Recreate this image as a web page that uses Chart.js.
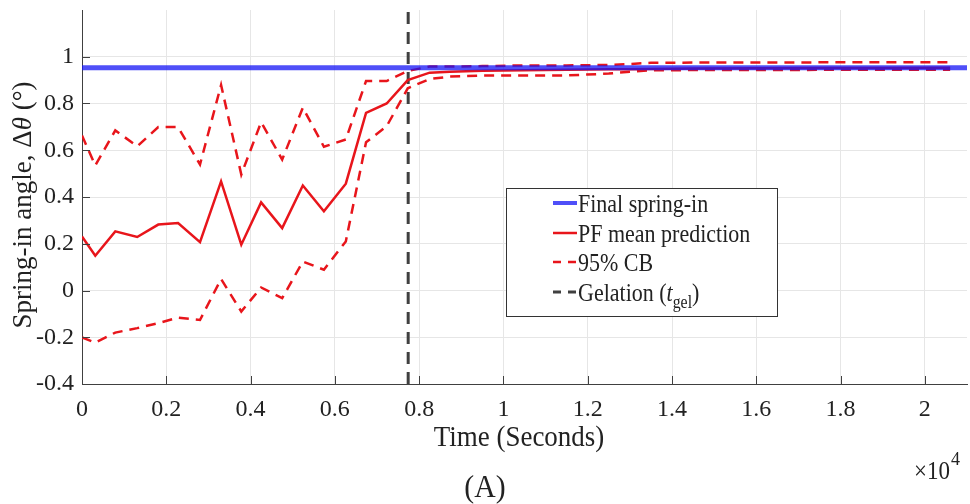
<!DOCTYPE html>
<html lang="en">
<head>
    <meta charset="UTF-8">
    <title>Spring-in angle</title>
    <script src="https://cdn.jsdelivr.net/npm/chart.js"></script>
    <style>
        html, body { margin: 0; padding: 0; background: #fff; }
        #wrap { width: 970px; height: 504px; }
    </style>
</head>
<body>
    <div id="wrap"><canvas id="springChart" width="970" height="504"></canvas></div>
    <script>
        // time stamps (s) of the particle filter updates
        const times = [0, 315, 790, 1310, 1810, 2280, 2800, 3300, 3780, 4250, 4750, 5240, 5740, 6260, 6740, 7230, 7730, 8250, 8730,
                       9500, 10500, 11500, 12500, 13000, 13500, 14500, 16000, 17500, 19000, 20600];
        const meanPred = [0.231, 0.149, 0.253, 0.229, 0.282, 0.289, 0.207, 0.467, 0.196, 0.377, 0.267, 0.449, 0.339, 0.457, 0.760, 0.800, 0.900, 0.932, 0.936,
                          0.940, 0.942, 0.944, 0.946, 0.947, 0.948, 0.950, 0.951, 0.952, 0.952, 0.953];
        const upperCB = [0.663, 0.535, 0.685, 0.617, 0.699, 0.699, 0.539, 0.879, 0.496, 0.720, 0.560, 0.782, 0.615, 0.646, 0.896, 0.896, 0.939, 0.958, 0.958,
                         0.960, 0.963, 0.963, 0.965, 0.969, 0.974, 0.975, 0.975, 0.976, 0.976, 0.976];
        const lowerCB = [-0.201, -0.223, -0.180, -0.161, -0.140, -0.116, -0.126, 0.049, -0.090, 0.013, -0.033, 0.124, 0.089, 0.210, 0.634, 0.703, 0.865, 0.905, 0.915,
                         0.920, 0.920, 0.920, 0.928, 0.936, 0.942, 0.943, 0.943, 0.944, 0.944, 0.944];
        const finalSpringIn = 0.953;
        const gelationTime = 7740;
        const xRange = [0, 21000];
        const yRange = [-0.4, 1.2];
        const xTicks = [0, 2000, 4000, 6000, 8000, 10000, 12000, 14000, 16000, 18000, 20000];
        const yTicks = [-0.4, -0.2, 0, 0.2, 0.4, 0.6, 0.8, 1];

        const serif = '"Liberation Serif", "DejaVu Serif", serif';
        const red = '#e8151b';
        const blue = 'rgba(20, 20, 245, 0.75)';
        const gray = '#404040';

        const toPoints = (ys) => times.map((t, i) => ({ x: t, y: ys[i] }));

        // draw text squeezed horizontally, like the source figure
        function squeezed(ctx, text, x, y, sx) {
            ctx.save();
            ctx.translate(x, y);
            ctx.scale(sx, 1);
            ctx.fillText(text, 0, 0);
            ctx.restore();
            return ctx.measureText(text).width * sx;
        }

        // extra text, legend and inward tick marks (MATLAB style)
        const decorations = {
            id: 'decorations',
            afterDraw(chart) {
                const ctx = chart.ctx;
                const area = chart.chartArea;
                const xs = chart.scales.x, ys = chart.scales.y;
                ctx.save();

                // inward ticks
                ctx.strokeStyle = gray;
                ctx.lineWidth = 1;
                ctx.setLineDash([]);
                xTicks.forEach(t => {
                    const px = Math.round(xs.getPixelForValue(t)) + 0.5;
                    ctx.beginPath(); ctx.moveTo(px, area.bottom); ctx.lineTo(px, area.bottom - 8); ctx.stroke();
                });
                yTicks.forEach(v => {
                    const py = Math.round(ys.getPixelForValue(v)) + 0.5;
                    ctx.beginPath(); ctx.moveTo(area.left, py); ctx.lineTo(area.left + 8, py); ctx.stroke();
                });

                ctx.fillStyle = '#222';
                ctx.textBaseline = 'alphabetic';
                ctx.textAlign = 'left';

                // x title and exponent
                ctx.font = '29px ' + serif;
                const tw = ctx.measureText('Time (Seconds)').width * 0.93;
                squeezed(ctx, 'Time (Seconds)', 519 - tw / 2, 446, 0.93);
                ctx.font = '25px ' + serif;
                const ew = squeezed(ctx, '\u00d710', 914, 479, 0.92);
                ctx.font = '18px ' + serif;
                ctx.fillText('4', 914 + ew + 1, 465);

                // panel label
                ctx.font = '32px ' + serif;
                const aw = ctx.measureText('(A)').width * 0.93;
                squeezed(ctx, '(A)', 485 - aw / 2, 497, 0.93);

                // y title with italic theta
                ctx.save();
                ctx.translate(31, 205);
                ctx.rotate(-Math.PI / 2);
                const parts = [['Spring-in angle, \u0394', '27px ' + serif], ['\u03b8', 'italic 27px ' + serif], [' (\u00b0)', '27px ' + serif]];
                let total = 0;
                parts.forEach(p => { ctx.font = p[1]; total += ctx.measureText(p[0]).width; });
                let cx = -total / 2;
                parts.forEach(p => { ctx.font = p[1]; ctx.fillText(p[0], cx, 0); cx += ctx.measureText(p[0]).width; });
                ctx.restore();

                // legend
                const lx = 506, ly = 188, lw = 271, lh = 128;
                ctx.fillStyle = '#fff';
                ctx.fillRect(lx, ly, lw, lh);
                ctx.strokeStyle = '#333';
                ctx.lineWidth = 1;
                ctx.strokeRect(lx + 0.5, ly + 0.5, lw, lh);
                const rows = [
                    { label: 'Final spring-in', color: blue, width: 4, dash: [] },
                    { label: 'PF mean prediction', color: red, width: 2.5, dash: [] },
                    { label: '95% CB', color: red, width: 2.5, dash: [8, 7] },
                    { label: 'Gelation (', color: gray, width: 3, dash: [8, 7] }
                ];
                const rowY = [203, 233, 262, 292];
                const sx = 0.88;
                rows.forEach((r, i) => {
                    ctx.strokeStyle = r.color;
                    ctx.lineWidth = r.width;
                    ctx.setLineDash(r.dash);
                    ctx.beginPath(); ctx.moveTo(553, rowY[i]); ctx.lineTo(577, rowY[i]); ctx.stroke();
                    ctx.setLineDash([]);
                    ctx.fillStyle = '#222';
                    ctx.font = '25px ' + serif;
                    let gx = 578 + squeezed(ctx, r.label, 578, rowY[i] + 9, sx);
                    if (i === 3) {
                        ctx.font = 'italic 25px ' + serif;
                        gx += squeezed(ctx, 't', gx, rowY[i] + 9, sx);
                        ctx.font = '18px ' + serif;
                        gx += squeezed(ctx, 'gel', gx, rowY[i] + 16, sx);
                        ctx.font = '25px ' + serif;
                        squeezed(ctx, ')', gx, rowY[i] + 9, sx);
                    }
                });
                ctx.restore();
            }
        };

        const ctxSpring = document.getElementById('springChart').getContext('2d');
        new Chart(ctxSpring, {
            type: 'line',
            data: {
                datasets: [
                    {
                        label: 'Final spring-in',
                        data: [{ x: xRange[0], y: finalSpringIn }, { x: xRange[1], y: finalSpringIn }],
                        borderColor: blue,
                        borderWidth: 5,
                        order: 0
                    },
                    {
                        label: 'PF mean prediction',
                        data: toPoints(meanPred),
                        borderColor: red,
                        borderWidth: 2.5,
                        order: 1
                    },
                    {
                        label: '95% CB upper',
                        data: toPoints(upperCB),
                        borderColor: red,
                        borderWidth: 2.5,
                        borderDash: [10, 7],
                        order: 2
                    },
                    {
                        label: '95% CB lower',
                        data: toPoints(lowerCB),
                        borderColor: red,
                        borderWidth: 2.5,
                        borderDash: [10, 7],
                        order: 3
                    },
                    {
                        label: 'Gelation',
                        data: [{ x: gelationTime, y: yRange[0] }, { x: gelationTime, y: yRange[1] }],
                        borderColor: gray,
                        borderWidth: 3,
                        borderDash: [12, 8],
                        order: 4
                    }
                ]
            },
            options: {
                responsive: false,
                animation: false,
                maintainAspectRatio: false,
                layout: { padding: { top: 10, right: 3, left: 0, bottom: 0 } },
                elements: { point: { radius: 0 }, line: { tension: 0 } },
                plugins: {
                    legend: { display: false },
                    tooltip: { enabled: false }
                },
                scales: {
                    x: {
                        type: 'linear',
                        min: xRange[0],
                        max: xRange[1],
                        afterBuildTicks: (scale) => { scale.ticks = xTicks.map(v => ({ value: v })); },
                        afterFit: (scale) => { scale.height = 120; scale.paddingLeft = 0; scale.paddingRight = 0; },
                        ticks: {
                            color: '#222',
                            padding: 11,
                            maxRotation: 0,
                            font: { family: serif, size: 24 },
                            callback: (v) => String(Math.round(v / 1000) / 10)
                        },
                        grid: { color: '#e6e6e6', drawTicks: false, tickLength: 0 },
                        border: { color: gray, width: 1 }
                    },
                    y: {
                        min: yRange[0],
                        max: yRange[1],
                        afterBuildTicks: (scale) => { scale.ticks = yTicks.map(v => ({ value: v })); },
                        afterFit: (scale) => { scale.width = 82; scale.paddingTop = 0; scale.paddingBottom = 0; },
                        ticks: {
                            color: '#222',
                            padding: 8,
                            font: { family: serif, size: 24 },
                            callback: (v) => String(Math.round(v * 10) / 10)
                        },
                        grid: { color: '#e6e6e6', drawTicks: false, tickLength: 0 },
                        border: { color: gray, width: 1 }
                    }
                }
            },
            plugins: [decorations]
        });
    </script>
</body>
</html>
